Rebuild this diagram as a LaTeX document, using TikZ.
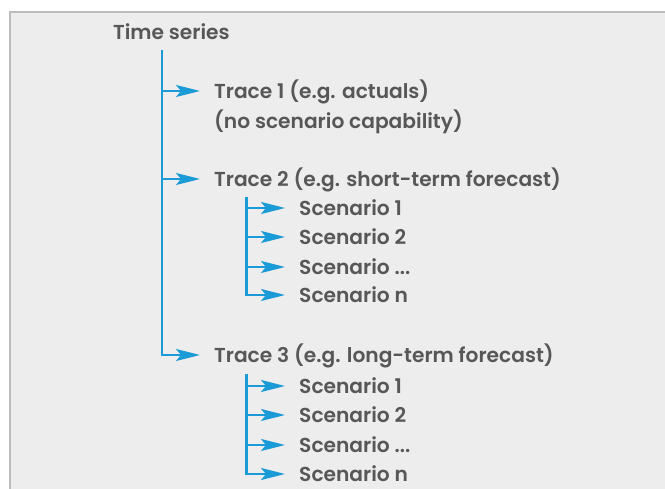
\documentclass[tikz,border=0pt]{standalone}
\usepackage{fontspec}
\setmainfont{Poppins}[UprightFont=* SemiBold, BoldFont=* Bold]
\usetikzlibrary{arrows.meta,calc}
\definecolor{panelbg}{HTML}{EDEDED}
\definecolor{panelrule}{HTML}{BDBDBD}
\definecolor{linkblue}{HTML}{1B9AD8}
\definecolor{labelgray}{HTML}{575757}
\tikzset{
  lbl/.style={anchor=base west, inner sep=0pt, text=labelgray, font=\fontsize{20.2}{24}\selectfont},
  link/.style={draw=linkblue, line width=2.2pt},
  arr/.style={link, -{Stealth[length=24pt,width=12pt,inset=5pt]}},
}
\begin{document}
\begin{tikzpicture}[x=1pt,y=-1pt]
  % page and panel
  \useasboundingbox (0,0) rectangle (665,489);
  \fill[white] (0,0) rectangle (665,489);
  \fill[panelbg] (10,12) rectangle (665,489);
  \draw[panelrule, line width=1.5pt] (10,489) -- (10,12) -- (665,12);

  % labels
  \node[lbl] (ts) at (113,40) {Time series};
  \node[lbl] (t1) at (214,99) {Trace 1 (e.g. actuals)};
  \node[lbl] (t1b) at (214,129) {(no scenario capability)};
  \node[lbl] (t2) at (214,187) {Trace 2 (e.g. short-term forecast)};
  \node[lbl] (s21) at (299,216) {Scenario 1};
  \node[lbl] (s22) at (299,245) {Scenario 2};
  \node[lbl] (s23) at (299,275) {Scenario ...};
  \node[lbl] (s24) at (299,303) {Scenario n};
  \node[lbl] (t3) at (214,363) {Trace 3 (e.g. long-term forecast)};
  \node[lbl] (s31) at (299,394) {Scenario 1};
  \node[lbl] (s32) at (299,423) {Scenario 2};
  \node[lbl] (s33) at (299,453) {Scenario ...};
  \node[lbl] (s34) at (299,482) {Scenario n};

  % arrow tips just left of each label
  \foreach \n in {t1,t2,t3,s21,s22,s23,s24,s31,s32,s33,s34}
    \coordinate (\n tip) at ([xshift=-14pt,yshift=8pt]\n.base west);

  % trunk tops
  \coordinate (mtop) at (162,50);
  \coordinate (g2top) at (246.5,197);
  \coordinate (g3top) at (246.5,374);

  % main trunk
  \draw[arr] (mtop) |- (t3tip);
  \draw[arr] (mtop |- t1tip) -- (t1tip);
  \draw[arr] (mtop |- t2tip) -- (t2tip);

  % scenarios of trace 2
  \draw[arr] (g2top) |- (s24tip);
  \foreach \n in {s21,s22,s23}
    \draw[arr] (g2top |- \n tip) -- (\n tip);

  % scenarios of trace 3
  \draw[arr] (g3top) |- (s34tip);
  \foreach \n in {s31,s32,s33}
    \draw[arr] (g3top |- \n tip) -- (\n tip);
\end{tikzpicture}
\end{document}
